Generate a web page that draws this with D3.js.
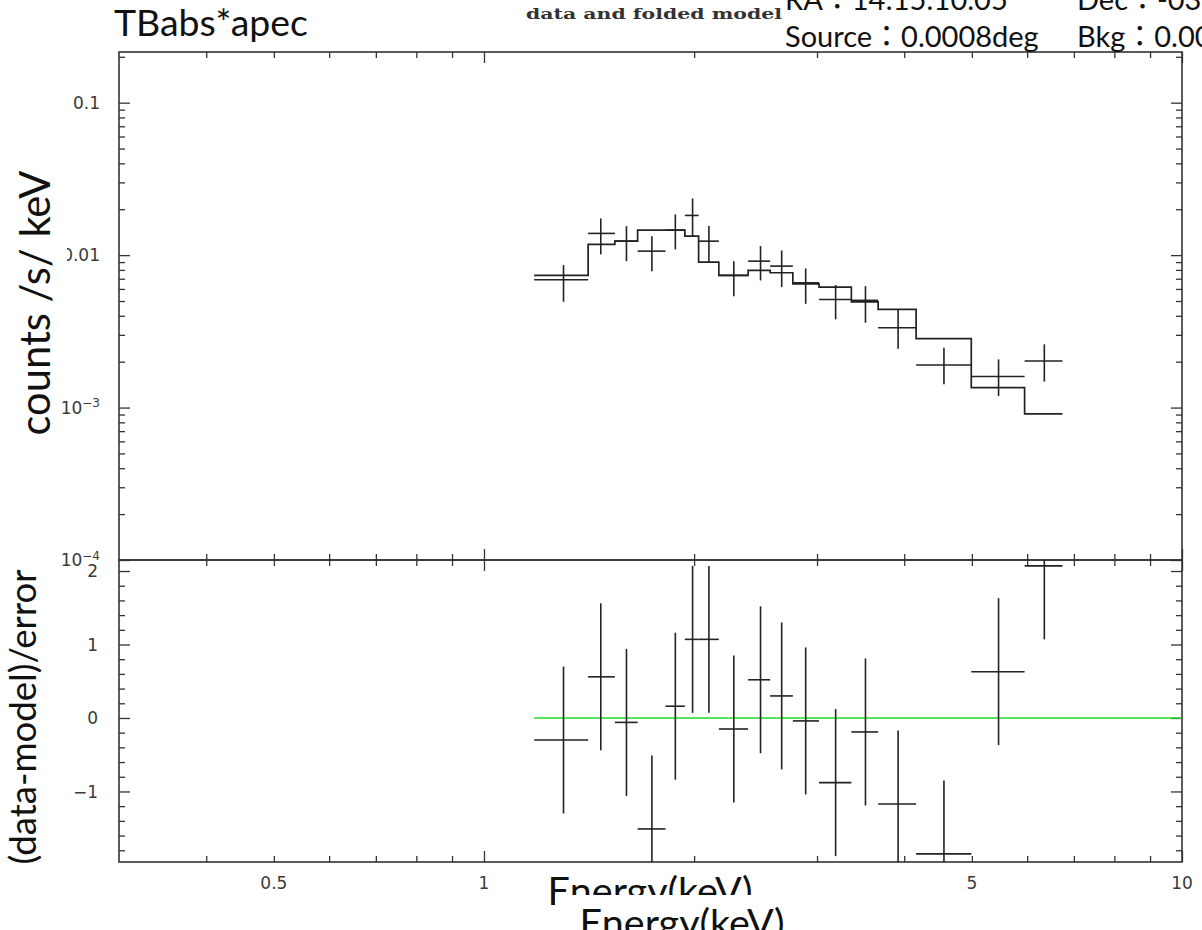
<!DOCTYPE html>
<html><head><meta charset="utf-8">
<script src="https://cdn.jsdelivr.net/npm/d3@7"></script>
<style>html,body{margin:0;padding:0;background:#fff;overflow:hidden}</style>
</head><body><svg id="c" width="1202" height="930"></svg>
<script>
// ---- data ----
const binLo  = [1.18,1.41,1.54,1.66,1.82,1.94,2.03,2.17,2.39,2.57,2.77,3.02,3.36,3.67,4.16,4.99,5.95];
const binHi  = [1.41,1.54,1.66,1.82,1.94,2.03,2.17,2.39,2.57,2.77,3.02,3.36,3.67,4.16,4.99,5.95,6.74];
const energy = [1.30,1.47,1.60,1.74,1.88,1.99,2.10,2.28,2.49,2.67,2.89,3.19,3.52,3.92,4.56,5.46,6.35];
const rate   = [0.00689,0.01388,0.01235,0.01062,0.01459,0.01821,0.01235,0.00736,0.00913,0.00847,0.00658,0.00512,0.00505,0.00334,0.00190,0.00160,0.00202];
const rateHi = [0.00860,0.01741,0.01550,0.01332,0.01849,0.02354,0.01550,0.00913,0.01146,0.01073,0.00818,0.00636,0.00626,0.00440,0.00247,0.00207,0.00260];
const rateLo = [0.00494,0.01011,0.00913,0.00785,0.01090,0.01332,0.00900,0.00538,0.00682,0.00617,0.00479,0.00379,0.00360,0.00243,0.00142,0.00119,0.00148];
const model  = [0.00736,0.01176,0.01235,0.01459,0.01459,0.01332,0.00900,0.00736,0.00794,0.00766,0.00648,0.00617,0.00494,0.00440,0.00283,0.00135,0.00091];
const resid  = [-0.30,0.56,-0.06,-1.51,0.16,1.07,1.07,-0.15,0.52,0.30,-0.04,-0.88,-0.19,-1.17,-1.85,0.63,2.07];
const residErr = [1,1,1,1,1,1,1,1,1,1,1,1,1,1,1,1,1];

const xMajorTicks = [1,10];
const xMinorTicks = [0.4,0.5,0.6,0.7,0.8,0.9,2,3,4,5,6,7,8,9];
const xTickLabels = [{v:0.5,t:"0.5"},{v:1,t:"1"},{v:5,t:"5"},{v:10,t:"10"}];
const yTopMajorTicks = [1e-4,1e-3,1e-2,1e-1];
const yTopMinorTicks = [2e-4,3e-4,4e-4,5e-4,6e-4,7e-4,8e-4,9e-4,2e-3,3e-3,4e-3,5e-3,6e-3,7e-3,8e-3,9e-3,0.02,0.03,0.04,0.05,0.06,0.07,0.08,0.09,0.2];
const yTopLabels = [{v:0.1,b:"0.1",s:""},{v:0.01,b:"0.01",s:""},{v:1e-3,b:"10",s:"\u22123"},{v:1e-4,b:"10",s:"\u22124"}];
const yBotMajorTicks = [-1,0,1,2];
const yBotMinorTicks = [-1.8,-1.6,-1.4,-1.2,-0.8,-0.6,-0.4,-0.2,0.2,0.4,0.6,0.8,1.2,1.4,1.6,1.8];
const yBotLabels = [{v:2,t:"2"},{v:1,t:"1"},{v:0,t:"0"},{v:-1,t:"\u22121"}];

const titleText = "TBabs*apec";
const plotTitle = "data and folded model";
const raText = ["RA\uFF1A14:15:10.05", "Dec\uFF1A-03:06:07"];
const srcText = ["Source\uFF1A0.0008deg", "Bkg\uFF1A0.0030deg"];
const yTopTitle = "counts /s/ keV";
const yBotTitle = "(data-model)/error";
const xTitle = "Energy(keV)";

// ---- layout ----
const L=119, R=1182, T=52, M=560, B=862;
const svg = d3.select("#c");
const x = d3.scaleLog().domain([0.3,10]).range([L,R]);
const yT = d3.scaleLog().domain([1e-4,0.215]).range([M,T]);
const yB = d3.scaleLinear().domain([-1.96,2.15]).range([B,M]);
const ink = "#222", frameInk = "#333", lab = "#3a3a3a";

svg.append("defs").call(d=>{
  d.append("clipPath").attr("id","cpT").append("rect").attr("x",L).attr("y",T).attr("width",R-L).attr("height",M-T);
  d.append("clipPath").attr("id","cpB").append("rect").attr("x",L).attr("y",M).attr("width",R-L).attr("height",B-M);
});

function axis(gen, vals, size, tx, ty){
  const g = svg.append("g").attr("transform",`translate(${tx},${ty})`)
    .call(gen.tickValues(vals).tickSize(size).tickSizeOuter(0).tickFormat(""));
  g.select(".domain").remove();
  g.selectAll("line").attr("stroke",frameInk).attr("stroke-width",1.3);
}
const MJ=11, MN=6;
[[T,d3.axisTop],[M,d3.axisTop],[M,d3.axisBottom],[B,d3.axisBottom]].forEach(([yy,f])=>{
  axis(f(x), xMajorTicks, -MJ, 0, yy);
  axis(f(x), xMinorTicks, -MN, 0, yy);
});
axis(d3.axisLeft(yT), yTopMajorTicks, -MJ, L, 0);
axis(d3.axisLeft(yT), yTopMinorTicks, -MN, L, 0);
axis(d3.axisRight(yT), yTopMajorTicks, -MJ, R, 0);
axis(d3.axisRight(yT), yTopMinorTicks, -MN, R, 0);
axis(d3.axisLeft(yB), yBotMajorTicks, -MJ, L, 0);
axis(d3.axisLeft(yB), yBotMinorTicks, -MN, L, 0);
axis(d3.axisRight(yB), yBotMajorTicks, -MJ, R, 0);
axis(d3.axisRight(yB), yBotMinorTicks, -MN, R, 0);

svg.append("rect").attr("x",L).attr("y",T).attr("width",R-L).attr("height",M-T).attr("fill","none").attr("stroke",frameInk).attr("stroke-width",1.6);
svg.append("rect").attr("x",L).attr("y",M).attr("width",R-L).attr("height",B-M).attr("fill","none").attr("stroke",frameInk).attr("stroke-width",1.6);

// tick labels
const tf = "'DejaVu Sans', sans-serif";
const ytl = svg.append("g").attr("font-family",tf).attr("font-size",17).attr("fill",lab);
yTopLabels.forEach(d=>{
  const t = ytl.append("text").attr("x",100).attr("y",yT(d.v)).attr("dy","0.36em").attr("text-anchor","end");
  t.append("tspan").text(d.b);
  if(d.s) t.append("tspan").attr("font-size",12).attr("dy","-0.55em").text(d.s);
});
yBotLabels.forEach(d=>{
  ytl.append("text").attr("x",98).attr("y",yB(d.v)).attr("dy","0.36em").attr("text-anchor","end").text(d.t);
});
xTickLabels.forEach(d=>{
  ytl.append("text").attr("x",x(d.v)).attr("y",889).attr("text-anchor","middle").text(d.t);
});

// upper panel
const gT = svg.append("g").attr("clip-path","url(#cpT)");
const stepPts = binLo.map((e,i)=>[e,model[i]]).concat([[binHi[binHi.length-1], model[model.length-1]]]);
gT.append("path").attr("d", d3.line().x(d=>x(d[0])).y(d=>yT(d[1])).curve(d3.curveStepAfter)(stepPts))
  .attr("fill","none").attr("stroke",ink).attr("stroke-width",1.7);
const cr = gT.selectAll("g.c").data(energy.map((e,i)=>i)).join("g");
cr.append("line").attr("x1",i=>x(binLo[i])).attr("x2",i=>x(binHi[i])).attr("y1",i=>yT(rate[i])).attr("y2",i=>yT(rate[i])).attr("stroke",ink).attr("stroke-width",1.6);
cr.append("line").attr("x1",i=>x(energy[i])).attr("x2",i=>x(energy[i])).attr("y1",i=>yT(rateLo[i])).attr("y2",i=>yT(rateHi[i])).attr("stroke",ink).attr("stroke-width",1.6);

// lower panel
const gB = svg.append("g").attr("clip-path","url(#cpB)");
gB.append("line").attr("x1",x(binLo[0])).attr("x2",x(10)).attr("y1",yB(0)).attr("y2",yB(0)).attr("stroke","#22dd22").attr("stroke-width",1.4);
const cb = gB.selectAll("g.c").data(energy.map((e,i)=>i)).join("g");
cb.append("line").attr("x1",i=>x(binLo[i])).attr("x2",i=>x(binHi[i])).attr("y1",i=>yB(resid[i])).attr("y2",i=>yB(resid[i])).attr("stroke",ink).attr("stroke-width",1.6);
cb.append("line").attr("x1",i=>x(energy[i])).attr("x2",i=>x(energy[i])).attr("y1",i=>yB(resid[i]-residErr[i])).attr("y2",i=>yB(resid[i]+residErr[i])).attr("stroke",ink).attr("stroke-width",1.6);

// plot title (PGPLOT style)
svg.append("text").attr("x",526).attr("y",19).attr("textLength",256).attr("lengthAdjust","spacingAndGlyphs")
  .attr("font-family","'DejaVu Serif', serif").attr("font-weight","bold").attr("font-size",14).attr("fill","#333").text(plotTitle);

// overlay labels: size fitted to the reference's text widths
const of = "Lato, 'Noto Sans CJK JP', sans-serif";
function fit(sel, w){ const n=sel.node(); const fs=+sel.attr("font-size"); const cw=n.getComputedTextLength(); sel.attr("font-size", fs*w/cw); return sel; }
function label(txt, fs){ return svg.append("text").attr("font-family",of).attr("font-size",fs).attr("fill","#111").text(txt); }

fit(label(titleText,34).attr("x",114).attr("y",36), 194);

const ra = svg.append("text").attr("font-family",of).attr("font-size",29).attr("fill","#111").attr("y",10);
ra.append("tspan").attr("x",785).text(raText[0]);
ra.append("tspan").attr("x",1077).text(raText[1]);
const src = svg.append("text").attr("font-family",of).attr("font-size",29).attr("fill","#111").attr("y",47);
src.append("tspan").attr("x",785).text(srcText[0]);
src.append("tspan").attr("x",1077).text(srcText[1]);

svg.append("rect").attr("x",0).attr("y",145).attr("width",67).attr("height",250).attr("fill","#fff");
fit(label(yTopTitle,40).attr("text-anchor","middle").attr("transform","translate(50,303) rotate(-90)"), 265);
fit(label(yBotTitle,34).attr("text-anchor","middle").attr("transform","translate(36,717) rotate(-90)"), 295);

fit(label(xTitle,37).attr("text-anchor","middle").attr("x",650).attr("y",905), 205);
svg.append("rect").attr("x",555).attr("y",895).attr("width",255).attr("height",40).attr("fill","#fff");
fit(label(xTitle,37).attr("text-anchor","middle").attr("x",682).attr("y",937), 205);
</script></body></html>
